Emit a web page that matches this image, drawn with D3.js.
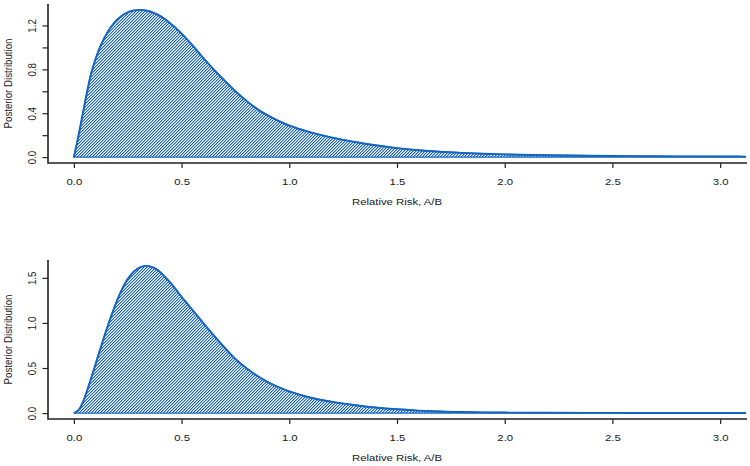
<!DOCTYPE html>
<html><head><meta charset="utf-8">
<script src="https://cdn.jsdelivr.net/npm/d3@7"></script>
<style>
body{margin:0;background:#fff}
svg{display:block}
text{font-family:"Liberation Sans",Arial,Helvetica,sans-serif;fill:#1a1a1a}
</style>
</head><body>
<svg id="chart" width="750" height="466"></svg>
<script>
// ---- data ----
const relativeRisk = [0, 0.02, 0.04, 0.06, 0.08, 0.1, 0.12, 0.14, 0.16, 0.18, 0.2, 0.22, 0.25, 0.28, 0.31, 0.34, 0.37, 0.4, 0.45, 0.5, 0.55, 0.6, 0.65, 0.7, 0.75, 0.8, 0.85, 0.9, 0.95, 1.0, 1.1, 1.2, 1.3, 1.4, 1.5, 1.6, 1.7, 1.8, 1.9, 2.0, 2.2, 2.4, 2.6, 2.8, 3.0, 3.2];
const posteriorTop = [0, 0.18, 0.38, 0.58, 0.76, 0.89, 0.995, 1.08, 1.15, 1.205, 1.25, 1.285, 1.32, 1.337, 1.342, 1.334, 1.315, 1.287, 1.215, 1.125, 1.02, 0.905, 0.797, 0.697, 0.60, 0.515, 0.44, 0.38, 0.33, 0.288, 0.225, 0.177, 0.14, 0.108, 0.082, 0.063, 0.049, 0.039, 0.031, 0.025, 0.017, 0.012, 0.009, 0.007, 0.0055, 0.0045];
const posteriorBottom = [0, 0.03, 0.11, 0.24, 0.385, 0.535, 0.69, 0.84, 0.985, 1.12, 1.245, 1.355, 1.485, 1.572, 1.618, 1.632, 1.612, 1.565, 1.44, 1.29, 1.145, 1.0, 0.86, 0.725, 0.60, 0.50, 0.415, 0.345, 0.288, 0.24, 0.17, 0.125, 0.09, 0.062, 0.042, 0.028, 0.018, 0.012, 0.008, 0.006, 0.004, 0.003, 0.002, 0.0015, 0.001, 0.001];
const xLimits = [0, 3];
const xTicks = [0, 0.5, 1.0, 1.5, 2.0, 2.5, 3.0];
const yTicksTop = [0, 0.2, 0.4, 0.6, 0.8, 1.0, 1.2];
const yLabelsTop = [0, 0.4, 0.8, 1.2];
const yTicksBottom = [0, 0.5, 1.0, 1.5];
const yLabelsBottom = [0, 0.5, 1.0, 1.5];
const xTitle = "Relative Risk, A/B";
const yTitle = "Posterior Distribution";

// ---- layout ----
const svg = d3.select("#chart");
const color = "#1565c0";
const SX = 1.17;           // horizontal stretch of the reference text
const FS = 9.7;
const left = 48, right = 746;

const defs = svg.append("defs");
const pat = defs.append("pattern")
  .attr("id", "hatch").attr("patternUnits", "userSpaceOnUse")
  .attr("width", 3).attr("height", 3);
[[2, 0, 1], [1, 1, 1], [0, 2, 1], [0, 0, 0.45], [2, 1, 0.45], [1, 2, 0.45]].forEach(([px, py, op]) => {
  pat.append("rect").attr("x", px).attr("y", py).attr("width", 1).attr("height", 1)
    .attr("fill", color).attr("fill-opacity", op).attr("shape-rendering", "crispEdges");
});

const panels = [
  {top: 4, bottom: 163, ys: posteriorTop, yTicks: yTicksTop, yLabels: yLabelsTop, id: "p1"},
  {top: 260, bottom: 419, ys: posteriorBottom, yTicks: yTicksBottom, yLabels: yLabelsBottom, id: "p2"}
];

const pad = (lo, hi) => { const r = hi - lo; return [lo - 0.04 * r, hi + 0.04 * r]; };

panels.forEach(p => {
  const x = d3.scaleLinear().domain(pad(xLimits[0], xLimits[1])).range([left, right]);
  const yMax = d3.max(p.ys);
  const y = d3.scaleLinear().domain(pad(0, yMax)).range([p.bottom, p.top]);
  const data = relativeRisk.map((v, i) => [v, p.ys[i]]);

  defs.append("clipPath").attr("id", "clip-" + p.id)
    .append("rect").attr("x", left).attr("y", p.top)
    .attr("width", right - left).attr("height", p.bottom - p.top);

  const g = svg.append("g").attr("clip-path", `url(#clip-${p.id})`);
  const curve = d3.curveCatmullRom.alpha(0.5);
  const area = d3.area().x(d => x(d[0])).y0(y(0)).y1(d => y(d[1])).curve(curve);
  g.append("path").datum(data).attr("d", area)
    .attr("fill", "url(#hatch)").attr("stroke", color).attr("stroke-width", 1.4);
  const line = d3.line().x(d => x(d[0])).y(d => y(d[1])).curve(curve);
  g.append("path").datum(data).attr("d", line)
    .attr("fill", "none").attr("stroke", color).attr("stroke-width", 1.9);

  // x axis
  const xa = svg.append("g").attr("transform", `translate(0,${p.bottom})`)
    .call(d3.axisBottom(x).tickValues(xTicks).tickSize(5).tickFormat(d3.format(".1f")));
  xa.select(".domain").remove();
  xa.selectAll("line").attr("stroke", "#222").attr("stroke-width", 1.2);
  xa.selectAll("text").attr("y", null).attr("dy", null)
    .attr("transform", `translate(0,21.8) scale(${SX},1)`)
    .attr("font-size", FS).attr("fill", "#1a1a1a").attr("font-family", null);

  // y axis
  const ya = svg.append("g").attr("transform", `translate(${left},0)`)
    .call(d3.axisLeft(y).tickValues(p.yTicks).tickSize(5.5)
      .tickFormat(d => p.yLabels.some(v => Math.abs(v - d) < 1e-9) ? d3.format(".1f")(d) : ""));
  ya.select(".domain").remove();
  ya.selectAll("line").attr("stroke", "#222").attr("stroke-width", 1.2);
  ya.selectAll("text").attr("x", null).attr("dy", null)
    .attr("text-anchor", "middle")
    .attr("transform", `translate(-11.6,0) scale(${SX},1) rotate(-90)`)
    .attr("font-size", FS).attr("fill", "#1a1a1a").attr("font-family", null);

  // L-shaped box
  svg.append("path")
    .attr("d", `M${left},${p.top}V${p.bottom}H${right + 1}`)
    .attr("fill", "none").attr("stroke", "#222").attr("stroke-width", 1.6);

  // titles
  svg.append("text")
    .attr("transform", `translate(${(left + right) / 2},${p.bottom + 42.2}) scale(${SX},1)`)
    .attr("text-anchor", "middle").attr("font-size", FS).text(xTitle);
  svg.append("text")
    .attr("transform", `translate(11.8,${(p.top + p.bottom) / 2}) scale(${SX},1) rotate(-90)`)
    .attr("text-anchor", "middle").attr("font-size", FS).text(yTitle);
});
</script>
</body></html>
